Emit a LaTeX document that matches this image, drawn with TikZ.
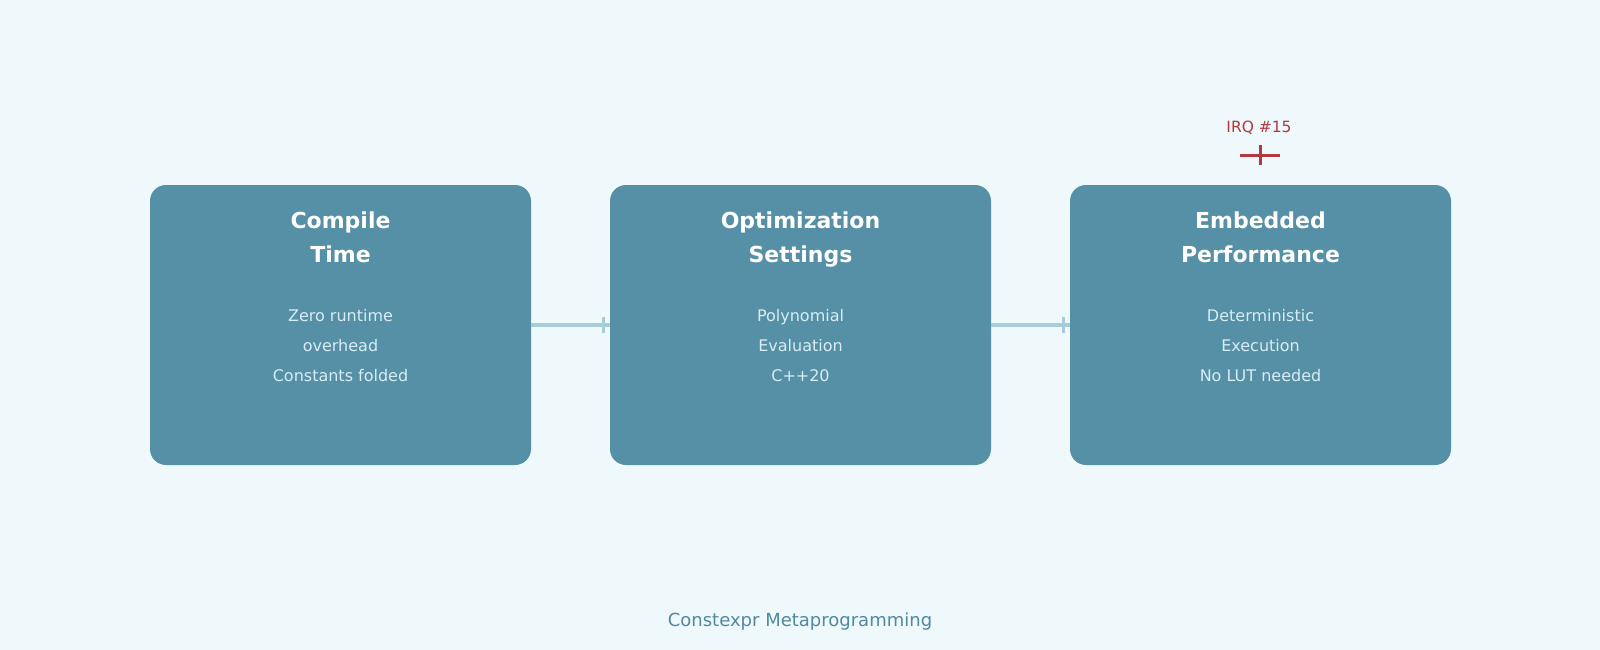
\documentclass[tikz,border=0pt]{standalone}
\usepackage{fontspec}
\setmainfont{DejaVu Sans}
\definecolor{bgc}{HTML}{EFF8FA}
\definecolor{boxc}{HTML}{5690A7}
\definecolor{connc}{HTML}{A8CCDA}
\definecolor{bodyc}{HTML}{D8ECF3}
\definecolor{footc}{HTML}{5089A0}
\definecolor{irqc}{HTML}{B23A3F}
\begin{document}
\begin{tikzpicture}[x=1pt,y=-1pt,
  stagebox/.style={draw=none,fill=boxc,rounded corners=16pt,minimum width=381pt,minimum height=280pt,inner sep=0pt},
  titletext/.style={text=white,font=\fontsize{22}{34}\selectfont\bfseries,anchor=base,inner sep=0pt},
  bodytext/.style={text=bodyc,font=\fontsize{16}{30}\selectfont,anchor=base,inner sep=0pt},
  conn/.style={draw=connc,line width=4pt},
  tickmark/.style={draw=connc,line width=3pt},
  irqmark/.style={draw=irqc,line width=3pt}]
\fill[bgc] (0,0) rectangle (1600,650);
\useasboundingbox (0,0) rectangle (1600,650);

\node[stagebox] (b1) at (340.5,325) {};
\node[stagebox] (b2) at (800.5,325) {};
\node[stagebox] (b3) at (1260.5,325) {};

\node[titletext] (t1a) at (340.5,228) {Compile};
\node[titletext] (t1b) at (340.5,262) {Time};
\node[titletext] (t2a) at (800.5,228) {Optimization};
\node[titletext] (t2b) at (800.5,262) {Settings};
\node[titletext] (t3a) at (1260.5,228) {Embedded};
\node[titletext] (t3b) at (1260.5,262) {Performance};

\node[bodytext] (d1a) at (340.5,321) {Zero runtime};
\node[bodytext] (d1b) at (340.5,351) {overhead};
\node[bodytext] (d1c) at (340.5,381) {Constants folded};
\node[bodytext] (d2a) at (800.5,321) {Polynomial};
\node[bodytext] (d2b) at (800.5,351) {Evaluation};
\node[bodytext] (d2c) at (800.5,381) {C++20};
\node[bodytext] (d3a) at (1260.5,321) {Deterministic};
\node[bodytext] (d3b) at (1260.5,351) {Execution};
\node[bodytext] (d3c) at (1260.5,381) {No LUT needed};

\draw[conn] (b1.east) -- (b2.west);
\draw[conn] (b2.east) -- (b3.west);
\draw[tickmark] ([xshift=-6pt]b2.west) +(0,-8) -- +(0,8);
\draw[tickmark] ([xshift=-6pt]b3.west) +(0,-8) -- +(0,8);

\coordinate (irq) at (1260,155);
\node[text=irqc,font=\fontsize{15.5}{18}\selectfont,anchor=base,inner sep=0pt] (irqlabel) at (1259,132) {IRQ \#15};
\draw[irqmark] (irq) +(-20,0) -- +(20,0);
\draw[irqmark] (irq) +(0,-10) -- +(0,10);

\node[text=footc,font=\fontsize{18}{22}\selectfont,anchor=base,inner sep=0pt] (footer) at (800,626) {Constexpr Metaprogramming};
\end{tikzpicture}
\end{document}
